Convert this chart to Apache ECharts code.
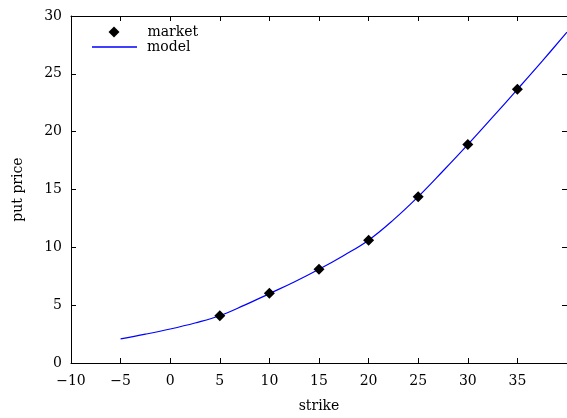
<!DOCTYPE html>
<html>
<head>
<meta charset="utf-8">
<script src="https://cdn.jsdelivr.net/npm/echarts@6/dist/echarts.min.js"></script>
<style>
html,body{margin:0;padding:0;background:#fff;}
#chart{width:567px;height:418px;}
</style>
</head>
<body>
<div id="chart"></div>
<script>
// Market observations
var marketStrikes = [5, 10, 15, 20, 25, 30, 35];
var marketPrices = [4.08, 6.02, 8.1, 10.62, 14.38, 18.88, 23.66];
// Model curve
var modelStrikes = [-5, -2.5, 0, 2.5, 5, 7.5, 10, 12.5, 15, 17.5, 20, 22.5, 25, 27.5, 30, 32.5, 35, 37.5, 40];
var modelPrices = [2.08, 2.49, 2.94, 3.46, 4.08, 5.0, 6.0, 7.0, 8.1, 9.3, 10.62, 12.37, 14.38, 16.6, 18.88, 21.25, 23.66, 26.1, 28.6];
// Tick labels
var xTicks = [-10, -5, 0, 5, 10, 15, 20, 25, 30, 35];
var yTicks = [0, 5, 10, 15, 20, 25, 30];

var font = 'DejaVu Serif';
var marketData = marketStrikes.map(function (x, i) { return [x, marketPrices[i]]; });
var modelData = modelStrikes.map(function (x, i) { return [x, modelPrices[i]]; });

function fmtX(v) {
  if (xTicks.indexOf(v) < 0) return '';
  return v < 0 ? '\u2212' + Math.abs(v) : String(v);
}
function fmtY(v) {
  if (yTicks.indexOf(v) < 0) return '';
  return String(v);
}

var axisLine = { show: true, onZero: false, lineStyle: { color: '#000', width: 1 } };
var tick = { show: true, inside: true, length: 5, lineStyle: { color: '#000', width: 1 } };

var chart = echarts.init(document.getElementById('chart'), null, { renderer: 'canvas' });
chart.setOption({
  animation: false,
  backgroundColor: '#fff',
  grid: { left: 71, right: -4, top: 16, bottom: 52, containLabel: false },
  legend: [{
    orient: 'vertical',
    left: 108.5,
    top: 25,
    padding: 0,
    itemWidth: 11,
    itemHeight: 11,
    icon: 'diamond',
    textStyle: { fontFamily: font, fontSize: 14, color: '#000', padding: [0, 0, 0, 23] },
    data: [{ name: 'market', itemStyle: { color: '#000', opacity: 1 } }]
  }, {
    orient: 'vertical',
    left: 92,
    top: 40,
    padding: 0,
    itemWidth: 45,
    itemHeight: 1.5,
    icon: 'rect',
    textStyle: { fontFamily: font, fontSize: 14, color: '#000', padding: [0, 0, 0, 5] },
    data: [{ name: 'model', itemStyle: { color: '#0000ff' } }]
  }],
  xAxis: [{
    type: 'value', position: 'bottom', min: -10, max: 40, interval: 5,
    name: 'strike', nameLocation: 'middle', nameGap: 36,
    nameTextStyle: { fontFamily: font, fontSize: 14, color: '#000' },
    axisLine: axisLine, axisTick: tick, splitLine: { show: false },
    axisLabel: { fontFamily: font, fontSize: 14, color: '#000', margin: 11, showMaxLabel: false, formatter: fmtX }
  }, {
    type: 'value', position: 'top', min: -10, max: 40, interval: 5,
    axisLine: axisLine, axisTick: tick, splitLine: { show: false },
    axisLabel: { show: false }
  }],
  yAxis: [{
    type: 'value', position: 'left', min: 0, max: 30, interval: 5,
    name: 'put price', nameLocation: 'middle', nameGap: 46, nameRotate: 90,
    nameTextStyle: { fontFamily: font, fontSize: 14, color: '#000' },
    axisLine: axisLine, axisTick: tick, splitLine: { show: false },
    axisLabel: { fontFamily: font, fontSize: 14, color: '#000', margin: 9, formatter: fmtY }
  }, {
    type: 'value', position: 'right', min: 0, max: 30, interval: 5,
    axisLine: axisLine, axisTick: tick, splitLine: { show: false },
    axisLabel: { show: false }
  }],
  series: [{
    name: 'market', type: 'scatter', xAxisIndex: 0, yAxisIndex: 0,
    symbol: 'diamond', symbolSize: 11,
    itemStyle: { color: '#000', opacity: 1 },
    data: marketData, z: 3
  }, {
    name: 'model', type: 'line', xAxisIndex: 0, yAxisIndex: 0,
    symbol: 'none', showSymbol: false, smooth: 0.4,
    lineStyle: { color: '#0000ff', width: 1.2 },
    itemStyle: { color: '#0000ff' },
    data: modelData, z: 2
  }]
});
</script>
</body>
</html>
